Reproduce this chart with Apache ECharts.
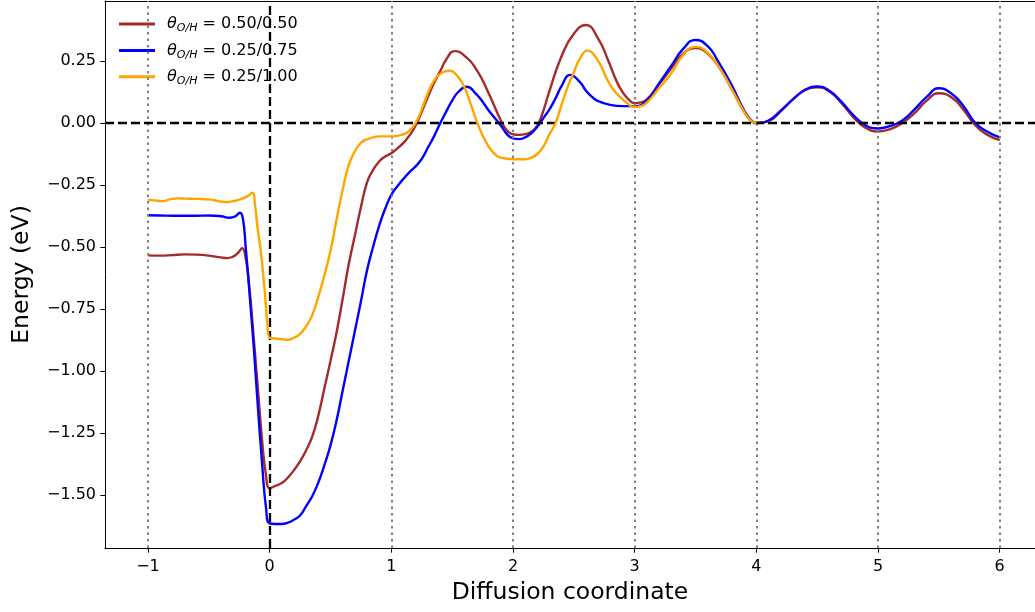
<!DOCTYPE html>
<html>
<head>
<meta charset="utf-8">
<script src="https://cdn.jsdelivr.net/npm/echarts@6/dist/echarts.min.js"></script>
<style>
html,body{margin:0;padding:0;background:#fff;}
#chart{width:1035px;height:612px;}
</style>
</head>
<body>
<div id="chart"></div>
<script>
// ---- data ----
const seriesNames = ['0.50/0.50', '0.25/0.75', '0.25/1.00'];
const seriesColors = ['#A52A2A', '#0000FF', '#FFA500'];

const curveA = [ // θ = 0.50/0.50
[-1.0,-0.534],[-0.9,-0.535],[-0.8,-0.533],[-0.7,-0.530],[-0.6,-0.531],[-0.5,-0.535],[-0.4,-0.542],[-0.35,-0.545],[-0.3,-0.539],[-0.26,-0.524],[-0.225,-0.505],[-0.2,-0.535],[-0.17,-0.646],[-0.13,-0.87],[-0.1,-1.05],[-0.06,-1.29],[-0.03,-1.42],[0.0,-1.473],[0.05,-1.463],[0.1,-1.452],[0.15,-1.43],[0.2,-1.40],[0.25,-1.365],[0.3,-1.32],[0.35,-1.265],[0.4,-1.18],[0.45,-1.07],[0.5,-0.96],[0.55,-0.845],[0.6,-0.71],[0.65,-0.57],[0.7,-0.455],[0.75,-0.34],[0.8,-0.24],[0.85,-0.19],[0.9,-0.155],[0.95,-0.135],[1.0,-0.122],[1.05,-0.102],[1.1,-0.08],[1.15,-0.05],[1.2,-0.01],[1.25,0.045],[1.3,0.105],[1.35,0.16],[1.4,0.207],[1.45,0.255],[1.52,0.29],[1.6,0.272],[1.7,0.215],[1.8,0.12],[1.9,0.01],[1.95,-0.03],[2.0,-0.046],[2.05,-0.048],[2.1,-0.045],[2.15,-0.035],[2.2,-0.01],[2.25,0.05],[2.3,0.13],[2.4,0.27],[2.5,0.36],[2.6,0.395],[2.7,0.34],[2.78,0.255],[2.85,0.17],[2.9,0.125],[2.95,0.095],[3.0,0.08],[3.05,0.083],[3.1,0.095],[3.2,0.155],[3.3,0.22],[3.4,0.28],[3.5,0.302],[3.6,0.28],[3.7,0.22],[3.8,0.135],[3.9,0.045],[3.95,0.012],[4.0,0.0],[4.1,0.008],[4.2,0.047],[4.3,0.095],[4.4,0.132],[4.5,0.144],[4.6,0.127],[4.7,0.08],[4.8,0.022],[4.9,-0.02],[5.0,-0.034],[5.1,-0.025],[5.2,0.0],[5.3,0.04],[5.4,0.09],[5.5,0.12],[5.6,0.105],[5.7,0.055],[5.8,-0.01],[5.9,-0.048],[6.0,-0.069]
];
const curveB = [ // θ = 0.25/0.75
[-1.0,-0.372],[-0.9,-0.373],[-0.8,-0.374],[-0.7,-0.374],[-0.6,-0.374],[-0.5,-0.373],[-0.4,-0.376],[-0.33,-0.382],[-0.28,-0.376],[-0.244,-0.362],[-0.22,-0.385],[-0.197,-0.499],[-0.16,-0.72],[-0.129,-0.915],[-0.1,-1.12],[-0.06,-1.386],[-0.03,-1.55],[0.0,-1.615],[0.05,-1.617],[0.1,-1.617],[0.15,-1.612],[0.2,-1.60],[0.25,-1.583],[0.3,-1.545],[0.35,-1.505],[0.4,-1.45],[0.45,-1.38],[0.5,-1.30],[0.55,-1.20],[0.6,-1.08],[0.65,-0.96],[0.7,-0.84],[0.75,-0.72],[0.8,-0.595],[0.85,-0.50],[0.9,-0.415],[0.95,-0.345],[1.0,-0.29],[1.05,-0.255],[1.1,-0.225],[1.15,-0.198],[1.2,-0.175],[1.25,-0.145],[1.3,-0.10],[1.35,-0.055],[1.4,-0.003],[1.45,0.045],[1.5,0.09],[1.55,0.125],[1.62,0.146],[1.7,0.115],[1.76,0.079],[1.8,0.05],[1.9,-0.01],[1.95,-0.045],[2.0,-0.062],[2.05,-0.065],[2.1,-0.058],[2.15,-0.042],[2.2,-0.015],[2.25,0.02],[2.3,0.055],[2.35,0.10],[2.4,0.15],[2.47,0.194],[2.55,0.165],[2.6,0.13],[2.65,0.105],[2.7,0.088],[2.8,0.073],[2.9,0.068],[3.0,0.068],[3.1,0.09],[3.2,0.16],[3.3,0.23],[3.4,0.30],[3.5,0.335],[3.6,0.31],[3.68,0.254],[3.79,0.16],[3.9,0.05],[3.95,0.015],[4.0,0.0],[4.1,0.01],[4.2,0.05],[4.3,0.095],[4.4,0.134],[4.5,0.147],[4.6,0.13],[4.7,0.085],[4.8,0.03],[4.9,-0.01],[5.0,-0.022],[5.1,-0.012],[5.2,0.01],[5.3,0.055],[5.4,0.105],[5.5,0.14],[5.6,0.12],[5.7,0.07],[5.8,0.0],[5.9,-0.035],[6.0,-0.058]
];
const curveC = [ // θ = 0.25/1.00
[-1.0,-0.310],[-0.95,-0.312],[-0.88,-0.315],[-0.82,-0.308],[-0.76,-0.304],[-0.7,-0.305],[-0.6,-0.306],[-0.5,-0.308],[-0.42,-0.315],[-0.36,-0.319],[-0.3,-0.315],[-0.24,-0.308],[-0.18,-0.295],[-0.142,-0.281],[-0.12,-0.33],[-0.1,-0.42],[-0.074,-0.512],[-0.04,-0.68],[-0.019,-0.806],[0.0,-0.866],[0.05,-0.869],[0.1,-0.872],[0.15,-0.874],[0.2,-0.866],[0.25,-0.85],[0.3,-0.82],[0.35,-0.775],[0.4,-0.70],[0.45,-0.615],[0.5,-0.515],[0.55,-0.39],[0.6,-0.27],[0.65,-0.17],[0.7,-0.115],[0.75,-0.08],[0.8,-0.066],[0.9,-0.054],[1.0,-0.054],[1.1,-0.046],[1.15,-0.03],[1.2,0.0],[1.25,0.055],[1.3,0.12],[1.35,0.17],[1.4,0.198],[1.48,0.211],[1.55,0.185],[1.6,0.145],[1.65,0.08],[1.7,0.01],[1.75,-0.05],[1.8,-0.095],[1.85,-0.125],[1.9,-0.14],[2.0,-0.146],[2.1,-0.146],[2.15,-0.14],[2.2,-0.125],[2.25,-0.095],[2.3,-0.045],[2.35,0.0],[2.4,0.075],[2.45,0.146],[2.5,0.205],[2.55,0.26],[2.61,0.292],[2.7,0.25],[2.78,0.17],[2.85,0.12],[2.94,0.079],[3.0,0.064],[3.05,0.068],[3.1,0.082],[3.2,0.14],[3.3,0.20],[3.4,0.275],[3.5,0.307],[3.6,0.283],[3.7,0.22],[3.8,0.135],[3.9,0.045],[3.95,0.012],[4.0,0.0]
];
const curves = [curveA, curveB, curveC];

const xTicks = [-1, 0, 1, 2, 3, 4, 5, 6];
const yTicks = [-1.5, -1.25, -1.0, -0.75, -0.5, -0.25, 0.0, 0.25];
const imageLines = [-1, 0, 1, 2, 3, 4, 5, 6];

const xLabel = 'Diffusion coordinate';
const yLabel = 'Energy (eV)';

// ---- chart ----
const FONT = 'DejaVu Sans';
const X_MIN = -1.353, X_MAX = 6.29, Y_MIN = -1.714, Y_MAX = 0.492;
const minus = v => (v < 0 ? '\u2212' : '') + Math.abs(v);
const chart = echarts.init(document.getElementById('chart'), null, {renderer: 'canvas'});

const lineSeries = curves.map((c, i) => ({
  name: seriesNames[i],
  type: 'line',
  data: c,
  showSymbol: false,
  symbol: 'none',
  smooth: 0.5,
  lineStyle: {color: seriesColors[i], width: 2.4},
  itemStyle: {color: seriesColors[i]},
  z: 3 + i,
  animation: false
}));

const refSeries = {
  type: 'line',
  data: [],
  silent: true,
  z: 10,
  animation: false,
  markLine: {
    silent: true,
    symbol: 'none',
    animation: false,
    label: {show: false},
    data: imageLines.map(v => ({xAxis: v, lineStyle: {color: '#808080', type: [2.5, 4], width: 2}}))
      .concat([
        {xAxis: 0, lineStyle: {color: '#000', type: [9, 4], width: 2.3}},
        {yAxis: 0, lineStyle: {color: '#000', type: [9, 4], width: 2.3}}
      ])
  }
};

chart.setOption({
  animation: false,
  backgroundColor: '#fff',
  grid: {left: 105, top: 1, right: 0, bottom: 64, show: false, containLabel: false},
  legend: {
    orient: 'vertical',
    left: 119,
    top: 16,
    padding: 0,
    itemWidth: 36,
    itemHeight: 3,
    itemGap: 8.4,
    icon: 'rect',
    data: seriesNames.map((n, i) => ({name: n, itemStyle: {color: seriesColors[i]}})),
    formatter: n => '{t|θ}{s|O/H}{n| = ' + n + '}',
    textStyle: {
      padding: [0, 0, 0, 7],
      rich: {
        t: {fontFamily: FONT, fontSize: 16, fontStyle: 'italic', color: '#000', lineHeight: 20, verticalAlign: 'middle'},
        s: {fontFamily: FONT, fontSize: 11, fontStyle: 'italic', color: '#000', lineHeight: 12, verticalAlign: 'bottom'},
        n: {fontFamily: FONT, fontSize: 16, color: '#000', lineHeight: 20, verticalAlign: 'middle'}
      }
    }
  },
  xAxis: [{
    type: 'value',
    min: X_MIN,
    max: X_MAX,
    name: xLabel,
    nameLocation: 'middle',
    nameGap: 33,
    nameTextStyle: {fontFamily: FONT, fontSize: 23.5, color: '#000'},
    axisLine: {show: true, onZero: false, lineStyle: {color: '#000', width: 1}},
    axisTick: {show: true, length: 4.7, customValues: xTicks, lineStyle: {color: '#000', width: 1}},
    axisLabel: {customValues: xTicks, margin: 11, fontFamily: FONT, fontSize: 16, color: '#000', formatter: v => minus(v)},
    splitLine: {show: false}
  }, {
    type: 'value',
    position: 'top',
    min: X_MIN,
    max: X_MAX,
    axisLine: {show: true, onZero: false, lineStyle: {color: '#000', width: 1}},
    axisTick: {show: false},
    axisLabel: {show: false},
    splitLine: {show: false}
  }],
  yAxis: {
    type: 'value',
    min: Y_MIN,
    max: Y_MAX,
    name: yLabel,
    nameLocation: 'middle',
    nameGap: 71,
    nameTextStyle: {fontFamily: FONT, fontSize: 23.5, color: '#000'},
    axisLine: {show: true, onZero: false, lineStyle: {color: '#000', width: 1}},
    axisTick: {show: true, length: 4.7, customValues: yTicks, lineStyle: {color: '#000', width: 1}},
    axisLabel: {customValues: yTicks, margin: 9, fontFamily: FONT, fontSize: 16, color: '#000',
      formatter: v => (v < 0 ? '\u2212' : '') + Math.abs(v).toFixed(2)},
    splitLine: {show: false}
  },
  series: lineSeries.concat([refSeries])
});
</script>
</body>
</html>
